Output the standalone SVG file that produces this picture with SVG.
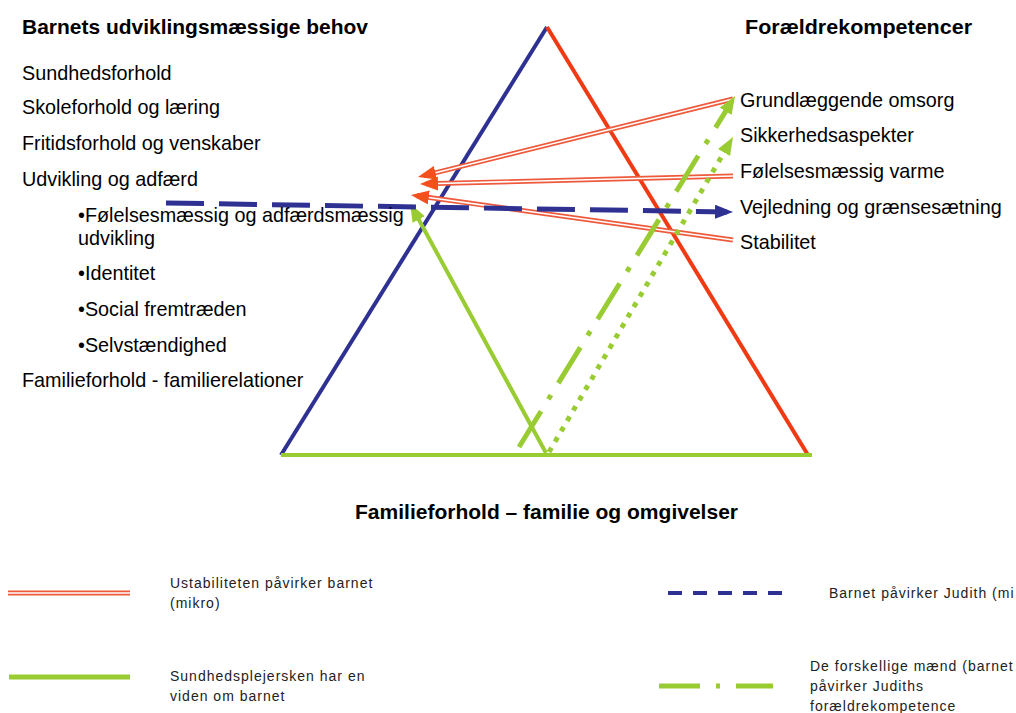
<svg xmlns="http://www.w3.org/2000/svg" width="1016" height="713" viewBox="0 0 1016 713">
<style>
text{font-family:"Liberation Sans",Arial,sans-serif;fill:#000}
.t{font-size:19.8px}
.h{font-size:21px;font-weight:bold}
.lg{font-size:14px;letter-spacing:1px;fill:#222}
.blue{stroke:#2E3192;fill:none;stroke-width:4}
.red{stroke:#F03A14;fill:none;stroke-width:4}
.grn{stroke:#99CC33;fill:none;stroke-width:4}
.dbl{stroke:#EE5A3C;fill:none;stroke-width:5}
.dblw{stroke:#fff;fill:none;stroke-width:1.6}
</style>
<defs>
<marker id="ar" markerUnits="userSpaceOnUse" markerWidth="20" markerHeight="16" refX="12" refY="7" orient="auto"><path d="M0,0 L18,7 L0,14 z" fill="#F4501E"/></marker>
<marker id="ag" markerUnits="userSpaceOnUse" markerWidth="20" markerHeight="16" refX="12" refY="7" orient="auto"><path d="M0,0 L18,7 L0,14 z" fill="#99CC33"/></marker>
<marker id="ab" markerUnits="userSpaceOnUse" markerWidth="20" markerHeight="16" refX="12" refY="7" orient="auto"><path d="M0,0 L18,7 L0,14 z" fill="#2E3192"/></marker>
</defs>
<rect width="1016" height="713" fill="#fff"/>

<g id="triangle">
<line class="blue" x1="547" y1="27" x2="281" y2="455"/>
<line class="red" x1="547" y1="27" x2="808" y2="455"/>
<line class="grn" x1="281" y1="455" x2="812" y2="455"/>
</g>

<g id="connectors">
<line class="dbl" x1="733" y1="99" x2="423.8" y2="175.6" marker-end="url(#ar)"/>
<line class="dblw" x1="733" y1="99" x2="435.5" y2="172.7"/>
<line class="dbl" x1="733" y1="176" x2="426" y2="183.8" marker-end="url(#ar)"/>
<line class="dblw" x1="733" y1="176" x2="438" y2="183.5"/>
<line class="dbl" x1="733" y1="240" x2="416.9" y2="195.8" marker-end="url(#ar)"/>
<line class="dblw" x1="733" y1="240" x2="428.8" y2="197.5"/>
<line class="grn" x1="546" y1="453" x2="413" y2="209" marker-end="url(#ag)"/>
<line class="grn" style="stroke-width:5" stroke-dasharray="42 14 5 14" x1="519" y1="447" x2="731.9" y2="101.1" marker-end="url(#ag)"/>
<line class="grn" style="stroke-width:5" stroke-dasharray="5 7" x1="549" y1="452" x2="730" y2="142.2" marker-end="url(#ag)"/>
<line class="blue" style="stroke-width:5" stroke-dasharray="38 15" x1="166" y1="203" x2="727" y2="211.9" marker-end="url(#ab)"/>
</g>

<g id="left-needs">
<text class="h" x="22" y="34" textLength="346" lengthAdjust="spacingAndGlyphs">Barnets udviklingsmæssige behov</text>
<text class="t" x="22" y="80">Sundhedsforhold</text>
<text class="t" x="22" y="114">Skoleforhold og læring</text>
<text class="t" x="22" y="150">Fritidsforhold og venskaber</text>
<text class="t" x="22" y="186">Udvikling og adfærd</text>
<text class="t" x="78" y="222">•Følelsesmæssig og adfærdsmæssig</text>
<text class="t" x="78" y="245">udvikling</text>
<text class="t" x="78" y="280">•Identitet</text>
<text class="t" x="78" y="316">•Social fremtræden</text>
<text class="t" x="78" y="352">•Selvstændighed</text>
<text class="t" x="22" y="387">Familieforhold - familierelationer</text>
</g>

<g id="right-competences">
<text class="h" x="745" y="34" textLength="227" lengthAdjust="spacingAndGlyphs">Forældrekompetencer</text>
<text class="t" x="740" y="107">Grundlæggende omsorg</text>
<text class="t" x="740" y="142">Sikkerhedsaspekter</text>
<text class="t" x="740" y="178">Følelsesmæssig varme</text>
<text class="t" x="740" y="214">Vejledning og grænsesætning</text>
<text class="t" x="740" y="249">Stabilitet</text>
</g>

<g id="bottom-family">
<text class="h" x="355" y="519" textLength="383" lengthAdjust="spacingAndGlyphs">Familieforhold – familie og omgivelser</text>
</g>

<g id="legend">
<line class="dbl" x1="8" y1="593" x2="130" y2="593"/>
<line class="dblw" x1="8" y1="593" x2="130" y2="593"/>
<text class="lg" x="170" y="588">Ustabiliteten påvirker barnet</text>
<text class="lg" x="170" y="608">(mikro)</text>
<line class="grn" style="stroke-width:5" x1="9" y1="677" x2="130" y2="677"/>
<text class="lg" x="170" y="681">Sundhedsplejersken har en</text>
<text class="lg" x="170" y="701">viden om barnet</text>
<line class="blue" style="stroke-width:4" stroke-dasharray="14 11" x1="668" y1="593" x2="788" y2="593"/>
<text class="lg" x="829" y="598">Barnet påvirker Judith (mi</text>
<line class="grn" style="stroke-width:5" stroke-dasharray="41 16 4 16" x1="659" y1="686" x2="773" y2="686"/>
<text class="lg" x="810" y="671">De forskellige mænd (barnet</text>
<text class="lg" x="810" y="691">påvirker Judiths</text>
<text class="lg" x="810" y="711">forældrekompetence</text>
</g>
</svg>
